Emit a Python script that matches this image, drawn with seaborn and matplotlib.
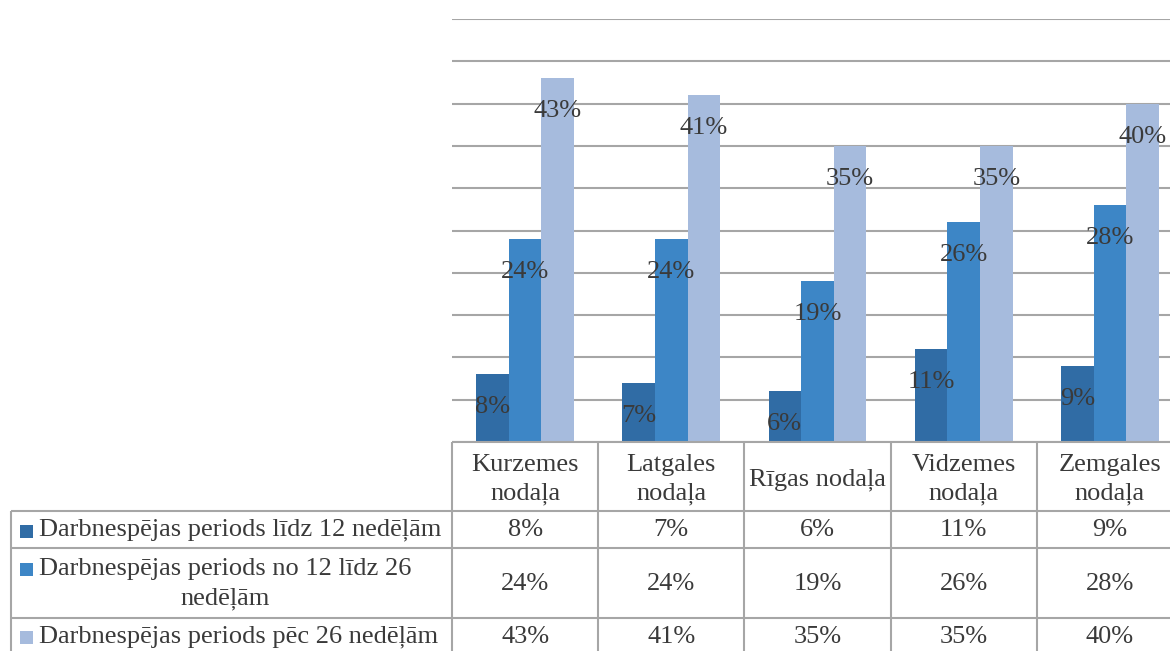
import numpy as np
import pandas as pd
import matplotlib
matplotlib.use("Agg")
import matplotlib.pyplot as plt
import seaborn as sns

# ---- data ----
regions = ["Kurzemes\nnodaļa", "Latgales\nnodaļa", "Rīgas nodaļa", "Vidzemes\nnodaļa", "Zemgales\nnodaļa"]
series_names = ["Darbnespējas periods līdz 12 nedēļām",
                "Darbnespējas periods no 12 līdz 26\nnedēļām",
                "Darbnespējas periods pēc 26 nedēļām"]
s_upto12 = [0.08, 0.07, 0.06, 0.11, 0.09]
s_12to26 = [0.24, 0.24, 0.19, 0.26, 0.28]
s_over26 = [0.43, 0.41, 0.35, 0.35, 0.40]
colors = ["#306CA5", "#3D86C6", "#A6BBDD"]

series_values = [s_upto12, s_12to26, s_over26]
df = pd.DataFrame({
    "region": [r for _ in series_names for r in regions],
    "series": [s for s in series_names for _ in regions],
    "value": [v for vals in series_values for v in vals],
})

sns.set_theme(style="white")
plt.rcParams["font.family"] = ["Liberation Serif", "DejaVu Serif"]
TXT = "#3A3A3A"
GRID = "#A6A6A6"
FS = 19
LS = 1.38

W, H = 1170, 651
fig = plt.figure(figsize=(W / 100, H / 100), dpi=100)
fig.patch.set_facecolor("white")

# plot area (extends slightly beyond the right edge, as in the reference)
x0, x1, ytop, ybot = 452, 1183, 19, 442
ax = fig.add_axes([x0 / W, (H - ybot) / H, (x1 - x0) / W, (ybot - ytop) / H])
sns.barplot(data=df, x="region", y="value", hue="series", order=regions,
            hue_order=series_names, palette=colors, width=0.67, saturation=1,
            legend=False, ax=ax, linewidth=0, errorbar=None)
ax.set_xlim(-0.5, len(regions) - 0.5)
ax.set_ylim(0, 0.5)
ax.set_yticks(np.arange(0, 0.501, 0.05))
ax.yaxis.grid(True, color=GRID, linewidth=1.5)
ax.set_axisbelow(True)
ax.tick_params(left=False, bottom=False, labelleft=False, labelbottom=False)
ax.set_xlabel("")
ax.set_ylabel("")
for sp in ax.spines.values():
    sp.set_visible(False)

# data labels
for cont, vals in zip(ax.containers, series_values):
    for bar, v in zip(cont, vals):
        ax.annotate(f"{v*100:.0f}%", (bar.get_x() + bar.get_width() / 2, bar.get_height()),
                    xytext=(0, -33 * 72 / 100), textcoords="offset points",
                    ha="center", va="center", fontsize=FS, color=TXT)

# ---- data table overlay (pixel coordinates) ----
tax = fig.add_axes([0, 0, 1, 1], zorder=5)
tax.set_xlim(0, W)
tax.set_ylim(H, 0)
tax.axis("off")
tax.patch.set_alpha(0)

fig.canvas.draw()
def col_px(xd):
    return ax.transData.transform((xd, 0))[0]

bounds = [col_px(i - 0.5) for i in range(len(regions) + 1)]
left_edge = 11
rows = [442, 511, 548, 618, 656]
row_centers = [530, 584, 637]
key_centers = [531, 569, 637]

lkw = dict(color=GRID, linewidth=1.5, solid_capstyle="butt")
# horizontal lines
tax.plot([bounds[0], bounds[-1]], [rows[0], rows[0]], **lkw)
for r in rows[1:4]:
    tax.plot([left_edge, bounds[-1]], [r, r], **lkw)
# vertical lines
for b in bounds:
    tax.plot([b, b], [rows[0], rows[-1]], **lkw)
tax.plot([left_edge, left_edge], [rows[1], rows[-1]], **lkw)

# header texts
for i, reg in enumerate(regions):
    cx = (bounds[i] + bounds[i + 1]) / 2
    tax.text(cx, (rows[0] + rows[1]) / 2 + 3, reg, ha="center", va="center",
             fontsize=FS, color=TXT, linespacing=LS)

# rows
for j, (name, vals) in enumerate(zip(series_names, series_values)):
    cy = row_centers[j]
    ky = key_centers[j]
    tax.add_patch(plt.Rectangle((20, ky - 6.5), 13, 13, color=colors[j], linewidth=0))
    tax.text(39, cy, name, ha="left", va="center", multialignment="center",
             fontsize=FS, color=TXT, linespacing=LS)
    for i, v in enumerate(vals):
        cx = (bounds[i] + bounds[i + 1]) / 2
        tax.text(cx, cy, f"{v*100:.0f}%", ha="center", va="center",
                 fontsize=FS, color=TXT)

fig.savefig("out.png", dpi=100, facecolor="white")
